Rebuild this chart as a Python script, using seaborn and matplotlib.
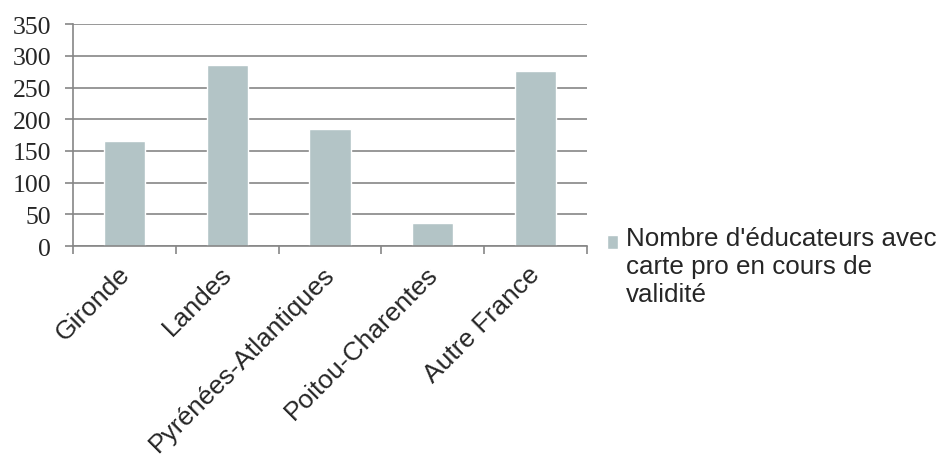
import matplotlib
matplotlib.use("Agg")
import matplotlib.pyplot as plt
import matplotlib.transforms as mtransforms
from matplotlib.patches import Rectangle
from matplotlib.legend_handler import HandlerPatch
import seaborn as sns
import pandas as pd

# ---- data ----
categories = ["Gironde", "Landes", "Pyrénées-Atlantiques", "Poitou-Charentes", "Autre France"]
values = [166, 286, 184, 37, 277]
series_name = "Nombre d'éducateurs avec\ncarte pro en cours de\nvalidité"
y_ticks = [0, 50, 100, 150, 200, 250, 300, 350]

bar_color = "#B3C4C6"
grid_color = "#868686"

sns.set_style("white")
plt.rcParams["font.family"] = ["Liberation Sans", "DejaVu Sans"]

df = pd.DataFrame({"Région": categories, "Valeur": values, "Série": [series_name] * len(categories)})

fig = plt.figure(figsize=(9.48, 4.56), dpi=100)
ax = fig.add_axes([0.0773, 0.4583, 0.5416, 0.4862])

sns.barplot(data=df, x="Région", y="Valeur", hue="Série", palette=[bar_color],
            width=0.4, dodge=False, saturation=1, ax=ax, legend=True)

ax.set_xlim(-0.5, len(categories) - 0.5)
ax.set_ylim(0, 350)
ax.set_yticks(y_ticks)
ax.set_yticklabels([str(v) for v in y_ticks], family=["Liberation Serif", "DejaVu Serif"], fontsize=18.5)
ax.set_xlabel("")
ax.set_ylabel("")

# grid & spines
ax.set_axisbelow(True)
ax.yaxis.grid(True, color=grid_color, linewidth=1.2)
ax.xaxis.grid(False)
for s in ["top", "right"]:
    ax.spines[s].set_visible(False)
for s in ["left", "bottom"]:
    ax.spines[s].set_color(grid_color)
    ax.spines[s].set_linewidth(1.2)

ax.tick_params(axis="y", which="major", left=True, length=5.8, width=1.2, color=grid_color, pad=10)
# category boundaries as minor ticks
ax.set_xticks([i - 0.5 for i in range(len(categories) + 1)], minor=True)
ax.tick_params(axis="x", which="minor", bottom=True, length=5.8, width=1.2, color=grid_color)
ax.tick_params(axis="x", which="major", bottom=False, length=0, pad=0)
ax.set_xticks(range(len(categories)))
ax.set_xticklabels(categories, rotation=45, ha="right", va="center",
                   rotation_mode="anchor", fontsize=19)
offset = mtransforms.ScaledTranslation(1 / 100, -24 / 100, fig.dpi_scale_trans)
for lab in ax.get_xticklabels():
    lab.set_transform(lab.get_transform() + offset)


class TopSquare(HandlerPatch):
    """Square handle placed beside the first line of a multi-line label."""
    def __init__(self, shift, **kw):
        super().__init__(**kw)
        self.shift = shift

    def create_artists(self, legend, orig_handle, xdescent, ydescent,
                       width, height, fontsize, trans):
        p = Rectangle(xy=(-xdescent, -ydescent + self.shift), width=width, height=height)
        self.update_prop(p, orig_handle, legend)
        p.set_transform(trans)
        return [p]


# legend
handles, labels = ax.get_legend_handles_labels()
ax.get_legend().remove()
fig.legend(handles, labels, loc="upper left", bbox_to_anchor=(0.640, 0.502),
           frameon=False, fontsize=18.7, handlelength=0.45, handleheight=0.45,
           handletextpad=0.3, borderpad=0, borderaxespad=0,
           handler_map={type(handles[0]): TopSquare(shift=17.5)})

fig.savefig("out.png", dpi=100)
